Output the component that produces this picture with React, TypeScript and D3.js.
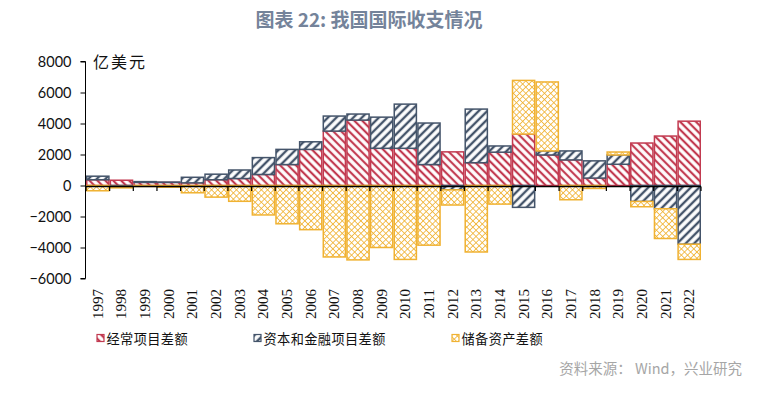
import { useEffect, useRef } from "react"
import * as d3 from "d3"

const years = ["1997", "1998", "1999", "2000", "2001", "2002", "2003", "2004", "2005", "2006", "2007", "2008", "2009",
  "2010", "2011", "2012", "2013", "2014", "2015", "2016", "2017", "2018", "2019", "2020", "2021", "2022"]

// 亿美元
const current = [370, 340, 200, 200, 170, 370, 450, 710, 1350, 2330, 3510, 4220, 2400,
  2400, 1350, 2170, 1470, 2150, 3320, 1970, 1650, 480, 1370, 2740, 3190, 4150]
const capital = [230, -60, 50, 20, 360, 360, 550, 1090, 980, 490, 970, 390, 2010,
  2850, 2680, -280, 3460, 400, -1410, 260, 580, 1110, 600, -1030, -1500, -3790]
const reserves = [-340, -90, -60, -110, -470, -750, -1020, -1900, -2470, -2850, -4610, -4800, -4000,
  -4770, -3850, -980, -4290, -1200, 3460, 4450, -920, -190, 190, -340, -1920, -980]

const yTicks = [8000, 6000, 4000, 2000, 0, -2000, -4000, -6000]

const seriesNames = ["经常项目差额", "资本和金融项目差额", "储备资产差额"]
const seriesKeys = ["current", "capital", "reserves"]
const COLORS = ["#c23a50", "#44546a", "#f0b232"]
const FILLS = ["url(#pRed)", "url(#pBlue)", "url(#pOrange)"]

export default function App() {
  const ref = useRef<SVGSVGElement>(null)

  useEffect(() => {
    const svg = d3.select(ref.current!)
    svg.selectAll("*").remove()
    const W = 767, H = 393

    const defs = svg.append("defs")
    const stripe = (id: string, color: string, angle: number, size: number, sw: number) => {
      const p = defs.append("pattern").attr("id", id)
        .attr("patternUnits", "userSpaceOnUse")
        .attr("width", size).attr("height", size)
        .attr("patternTransform", `rotate(${angle})`)
      p.append("rect").attr("width", size).attr("height", size).attr("fill", "#fff")
      p.append("line").attr("x1", size / 2).attr("x2", size / 2).attr("y1", 0).attr("y2", size)
        .attr("stroke", color).attr("stroke-width", sw)
    }
    stripe("pRed", COLORS[0], -45, 5.6, 2.2)
    stripe("pBlue", COLORS[1], 45, 6, 2.4)
    const cross = defs.append("pattern").attr("id", "pOrange")
      .attr("patternUnits", "userSpaceOnUse")
      .attr("width", 4.4).attr("height", 4.4)
      .attr("patternTransform", "rotate(45)")
    cross.append("rect").attr("width", 4.4).attr("height", 4.4).attr("fill", "#fff")
    cross.append("line").attr("x1", 0).attr("x2", 4.4).attr("y1", 2.2).attr("y2", 2.2)
      .attr("stroke", COLORS[2]).attr("stroke-width", 0.8)
    cross.append("line").attr("x1", 2.2).attr("x2", 2.2).attr("y1", 0).attr("y2", 4.4)
      .attr("stroke", COLORS[2]).attr("stroke-width", 0.8)

    svg.append("rect").attr("width", W).attr("height", H).attr("fill", "#fff")

    svg.append("text").attr("x", 369).attr("y", 27).attr("text-anchor", "middle")
      .attr("font-family", "'Noto Sans CJK SC', sans-serif").attr("font-weight", "bold")
      .attr("font-size", 19).attr("fill", "#74839a")
      .text("图表 22: 我国国际收支情况")

    const x = d3.scaleBand().domain(years).range([86, 701]).padding(0)
    const y = d3.scaleLinear().domain([-6000, 8000]).range([278.5, 61.5])

    const rows = years.map((yr, i) => ({ year: yr, current: current[i], capital: capital[i], reserves: reserves[i] }))
    const stacked = d3.stack<any>().keys(seriesKeys)
      .offset(d3.stackOffsetDiverging)(rows)

    stacked.forEach((s, si) => {
      svg.append("g").selectAll("rect").data(s).join("rect")
        .attr("x", (d: any) => x(d.data.year)! + 0.75)
        .attr("width", x.bandwidth() - 1.5)
        .attr("y", (d) => y(Math.max(d[0], d[1])))
        .attr("height", (d) => Math.abs(y(d[0]) - y(d[1])))
        .attr("fill", FILLS[si])
        .attr("stroke", COLORS[si])
        .attr("stroke-width", 1.5)
    })

    // y axis
    const ya = svg.append("g").attr("transform", "translate(85.5,0)")
      .call(d3.axisLeft(y).tickValues(yTicks).tickSize(5).tickPadding(9).tickFormat(d3.format("d")))
    ya.select(".domain").attr("stroke", "#000").attr("d", `M-5,${y(8000)}H0V${y(-6000)}H-5`)
    ya.selectAll(".tick line").attr("stroke", "#000")
    ya.selectAll(".tick text").attr("font-family", "Lato, 'Open Sans', sans-serif")
      .attr("font-size", 14.5).attr("fill", "#111")

    // zero line with category ticks
    const y0 = Math.round(y(0)) + 0.5
    svg.append("line").attr("x1", 85).attr("x2", 701).attr("y1", y0).attr("y2", y0)
      .attr("stroke", "#000").attr("stroke-width", 1.3)
    const bounds = years.map((yr) => x(yr)!).concat([701])
    svg.append("g").selectAll("line").data(bounds).join("line")
      .attr("x1", (d) => d).attr("x2", (d) => d)
      .attr("y1", y0).attr("y2", y0 + 4.5)
      .attr("stroke", "#000").attr("stroke-width", 1.2)

    // year labels
    svg.append("g").selectAll("text").data(years).join("text")
      .attr("transform", (d) => `translate(${x(d)! + x.bandwidth() / 2 + 5},289) rotate(-90)`)
      .attr("text-anchor", "end")
      .attr("font-family", "'Liberation Serif', serif").attr("font-size", 15).attr("fill", "#111")
      .text((d) => d)

    svg.append("text").attr("x", 93).attr("y", 68)
      .attr("font-family", "'Noto Sans CJK SC', sans-serif").attr("font-size", 16).attr("fill", "#111")
      .attr("letter-spacing", 2)
      .text("亿美元")

    // legend
    const legX = [97, 254, 452]
    seriesNames.forEach((name, i) => {
      svg.append("rect").attr("x", legX[i]).attr("y", 334.5).attr("width", 7).attr("height", 7)
        .attr("fill", FILLS[i]).attr("stroke", COLORS[i]).attr("stroke-width", 1.2)
      svg.append("text").attr("x", legX[i] + 9.5).attr("y", 343.5)
        .attr("font-family", "'Noto Sans CJK SC', sans-serif").attr("font-size", 13.2)
        .attr("letter-spacing", 0.4).attr("fill", "#111")
        .text(name)
    })

    svg.append("text").attr("x", 742).attr("y", 374).attr("text-anchor", "end")
      .attr("font-family", "'Noto Sans CJK SC', sans-serif").attr("font-size", 14.5).attr("fill", "#a6a6a6")
      .text("资料来源： Wind，兴业研究")
  }, [])

  return (
    <svg ref={ref} width={767} height={393}
      style={{ position: "absolute", left: 0, top: 0, display: "block" }} />
  )
}
